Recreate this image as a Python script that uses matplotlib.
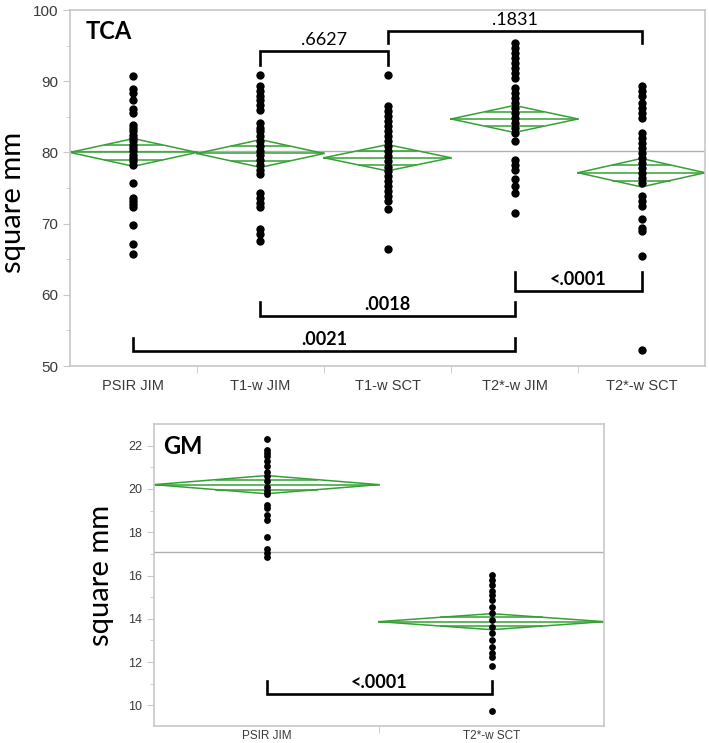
import numpy as np
import matplotlib
matplotlib.use("Agg")
import matplotlib.pyplot as plt

# ---- data ----
tca_groups = ["PSIR JIM", "T1-w JIM", "T1-w SCT", "T2*-w JIM", "T2*-w SCT"]

tca_psir_jim = [90.7, 88.9, 88.3, 87.3, 86.1, 85.5, 83.9, 83.4, 83.0, 82.5, 82.0, 81.6,
                81.1, 80.6, 80.2, 79.7, 79.2, 78.8, 78.3, 75.7, 73.6, 73.2, 72.8, 72.4,
                69.8, 67.2, 65.7]
tca_t1_jim = [90.9, 89.3, 88.6, 87.9, 87.4, 86.7, 86.0, 84.1, 83.4, 83.0, 82.3, 81.6,
              80.9, 80.2, 79.7, 79.0, 78.3, 77.6, 76.9, 74.3, 73.6, 72.9, 72.4, 69.2,
              68.5, 67.6]
tca_t1_sct = [90.9, 86.5, 85.8, 85.1, 84.4, 83.7, 83.0, 82.3, 81.6, 80.9, 80.2, 79.5,
              78.8, 78.0, 77.4, 76.7, 76.0, 75.3, 74.6, 73.9, 73.2, 72.0, 66.4]
tca_t2_jim = [95.3, 94.6, 93.9, 93.2, 92.5, 91.8, 91.1, 90.4, 89.0, 88.3, 87.6, 86.9,
              86.2, 85.5, 84.8, 84.1, 83.4, 82.7, 81.6, 79.0, 78.3, 77.6, 76.2, 75.3,
              74.3, 71.5]
tca_t2_sct = [89.3, 88.6, 87.9, 86.9, 86.2, 85.5, 84.8, 82.7, 82.0, 81.3, 80.6, 79.9,
              79.2, 78.5, 77.8, 77.1, 76.4, 75.7, 73.9, 73.2, 72.5, 70.6, 69.4, 69.0,
              65.5, 52.2]
tca_means = [80.0, 79.85, 79.25, 84.7, 77.15]
tca_ci = [1.95, 1.95, 1.85, 1.9, 2.0]
tca_grand = 80.2

gm_groups = ["PSIR JIM", "T2*-w SCT"]
gm_psir_jim = [22.3, 21.8, 21.65, 21.5, 21.3, 21.05, 20.8, 20.6, 20.35, 20.1, 19.9,
               19.78, 19.27, 19.1, 18.8, 18.57, 17.8, 17.22, 17.05, 16.87]
gm_t2_sct = [16.03, 15.8, 15.56, 15.3, 15.1, 14.87, 14.56, 14.25, 13.94, 13.63, 13.33,
             13.02, 12.71, 12.4, 12.25, 11.83, 9.73]
gm_means = [20.2, 13.87]
gm_ci = [0.42, 0.37]
gm_grand = 17.08

# brackets: (left group, right group, level, tick, label, bold)
tca_brackets = [(1, 2, 94.2, -1.9, ".6627", False),
                (2, 4, 97.1, -1.7, ".1831", False),
                (3, 4, 60.55, 2.6, "<.0001", True),
                (1, 3, 57.05, 1.9, ".0018", True),
                (0, 3, 52.1, 1.9, ".0021", True)]
gm_brackets = [(0, 1, 10.55, 0.57, "<.0001", True)]

GREEN = "#35a035"
TXT = "#3a3a3a"
FRAME = "#c8c8c8"
LABEL_FONT = ["Lato", "DejaVu Sans"]
TICK_FONT = ["Liberation Sans", "DejaVu Sans"]


def diamonds(ax, means, ci):
    for i, (m, h) in enumerate(zip(means, ci)):
        c = i + 0.5
        ax.plot([c - 0.5, c, c + 0.5, c, c - 0.5], [m, m + h, m, m - h, m],
                color=GREEN, lw=1.1, zorder=2)
        ax.plot([c - 0.5, c + 0.5], [m, m], color=GREEN, lw=1.1, zorder=2)
        f = 0.55
        for s in (1, -1):
            ax.plot([c - 0.5 * (1 - f), c + 0.5 * (1 - f)], [m + s * f * h] * 2,
                    color=GREEN, lw=1.1, zorder=2)


def brackets(ax, items, fs):
    for a, b, y, t, lab, bold in items:
        x0, x1 = a + 0.5, b + 0.5
        ax.plot([x0, x0, x1, x1], [y + t, y, y, y + t], color="black", lw=1.9,
                solid_joinstyle="miter", zorder=4)
        ax.annotate(lab, ((x0 + x1) / 2, y), xytext=(0, 8), textcoords="offset points",
                    ha="center", va="center", fontsize=fs, family=LABEL_FONT,
                    fontweight="bold" if bold else "normal", color="black")


def style(ax, groups, lab_fs, tick_fs, pad):
    for sp in ax.spines.values():
        sp.set_color(FRAME)
        sp.set_linewidth(1.2)
    ax.set_xlim(0, len(groups))
    ax.set_xticks(np.arange(len(groups)) + 0.5)
    ax.set_xticklabels(groups, fontsize=lab_fs, color=TXT, family=TICK_FONT)
    ax.set_xticks(np.arange(1, len(groups)), minor=True)
    ax.tick_params(axis="x", which="major", length=0, pad=pad)
    ax.tick_params(axis="x", which="minor", length=5, color=FRAME)
    ax.tick_params(axis="y", which="major", length=5, color=FRAME, labelsize=tick_fs,
                   labelcolor=TXT)
    ax.tick_params(axis="y", which="minor", length=3, color=FRAME)
    for t in ax.get_yticklabels():
        t.set_family(TICK_FONT)


fig = plt.figure(figsize=(7.09, 7.43), dpi=100)

# ---- TCA panel ----
ax1 = fig.add_axes([0.0987, 0.5074, 0.8957, 0.4791])
ax1.axhline(tca_grand, color="#b0b0b0", lw=1.0, zorder=1)
diamonds(ax1, tca_means, tca_ci)
for i, vals in enumerate([tca_psir_jim, tca_t1_jim, tca_t1_sct, tca_t2_jim, tca_t2_sct]):
    ax1.scatter(np.full(len(vals), i + 0.5), vals, s=36, color="black", zorder=3,
                linewidths=0)
brackets(ax1, tca_brackets, 13)
ax1.set_ylim(50, 100)
ax1.set_yticks([50, 60, 70, 80, 90, 100])
ax1.set_yticks(np.arange(55, 100, 10), minor=True)
style(ax1, tca_groups, 10.5, 11, 9)
ax1.set_ylabel("square mm", fontsize=21, family=LABEL_FONT)
ax1.yaxis.set_label_coords(-0.07, 0.46)
ax1.text(0.024, 0.94, "TCA", transform=ax1.transAxes, fontsize=17,
         fontweight="bold", family=LABEL_FONT, va="center")

# ---- GM panel ----
ax2 = fig.add_axes([0.2172, 0.0229, 0.6348, 0.4064])
ax2.axhline(gm_grand, color="#b0b0b0", lw=1.0, zorder=1)
diamonds(ax2, gm_means, gm_ci)
for i, vals in enumerate([gm_psir_jim, gm_t2_sct]):
    ax2.scatter(np.full(len(vals), i + 0.5), vals, s=24, color="black", zorder=3,
                linewidths=0)
brackets(ax2, gm_brackets, 13)
ax2.set_ylim(9.05, 23.0)
ax2.set_yticks([10, 12, 14, 16, 18, 20, 22])
ax2.set_yticks(np.arange(11, 23, 2), minor=True)
style(ax2, gm_groups, 8.5, 9, 3)
ax2.set_ylabel("square mm", fontsize=21, family=LABEL_FONT)
ax2.yaxis.set_label_coords(-0.088, 0.5)
ax2.text(0.02, 0.925, "GM", transform=ax2.transAxes, fontsize=17,
         fontweight="bold", family=LABEL_FONT, va="center")

fig.savefig("out.png", dpi=100)
